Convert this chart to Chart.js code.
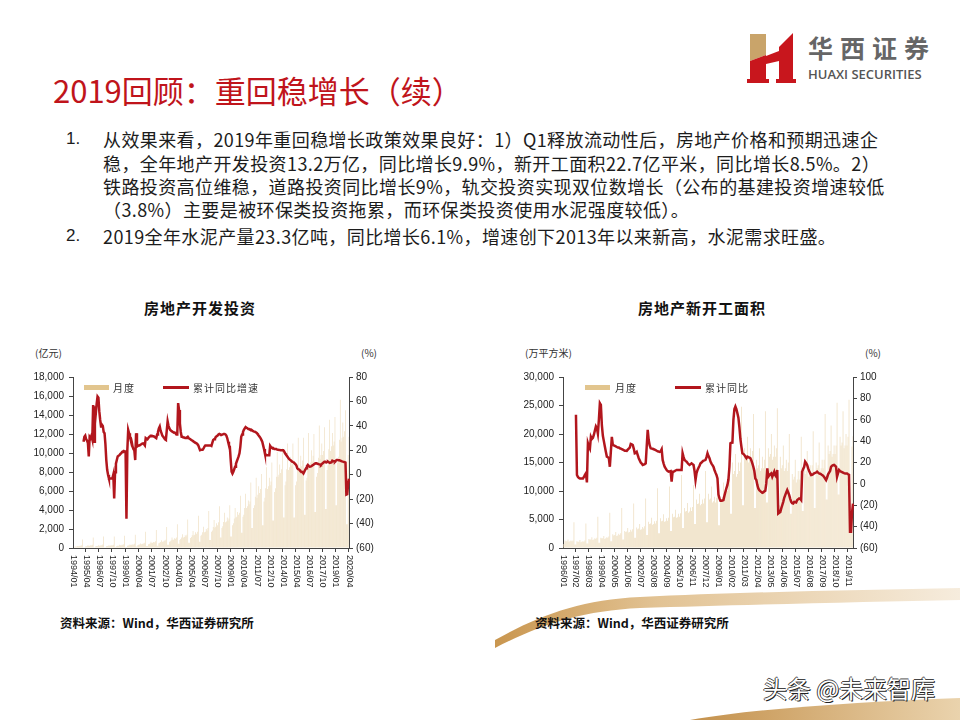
<!DOCTYPE html>
<html>
<head>
<meta charset="utf-8">
<script src="https://cdn.jsdelivr.net/npm/chart.js@4.4.1/dist/chart.umd.min.js"></script>
<style>
  body { margin: 0; width: 960px; height: 720px; position: relative; overflow: hidden; background: #fff;
         font-family: "Noto Sans CJK SC", "Noto Sans", sans-serif; }
  .abs { position: absolute; white-space: nowrap; }
  .title { left: 53px; top: 72px; font-size: 31px; line-height: 36px; color: #c0141b; }
  .body { font-size: 18px; line-height: 22px; color: #1c1c1c; letter-spacing: 0.4px; }
  .num { font-family: "Liberation Sans", Arial, sans-serif; font-size: 17px; line-height: 22px; color: #1c1c1c; }
  .ctitle { font-size: 15px; font-weight: bold; color: #111; letter-spacing: 1px; transform: translateX(-50%); }
  .unit { font-size: 10px; color: #333; }
  .leg { font-size: 10px; color: #333; letter-spacing: 1px; }
  .src { font-size: 12.5px; font-weight: bold; color: #111; }
  canvas { position: absolute; }
</style>
</head>
<body>
<svg class="abs" style="left:0;top:0" width="960" height="720">
  <defs>
    <linearGradient id="g1" x1="0" y1="0" x2="1" y2="0">
      <stop offset="0" stop-color="#c9964f"/>
      <stop offset="0.35" stop-color="#e2c394"/>
      <stop offset="1" stop-color="#f6ecdd"/>
    </linearGradient>
    <linearGradient id="g2" x1="0" y1="0" x2="1" y2="0">
      <stop offset="0" stop-color="#c4914c"/>
      <stop offset="1" stop-color="#ead3ad"/>
    </linearGradient>
  </defs>
  <path d="M495,640 C540,615 580,600 640,597 C740,592 860,590 960,588 L960,600 C860,602 740,605 640,608 C580,611 540,625 495,648 Z" fill="url(#g1)"/>
  <path d="M690,720 C760,708 860,702 960,698 L960,720 Z" fill="url(#g2)"/>
  <!-- logo -->
  <polygon points="750,34 766,34 766,55 750,61" fill="#c9a46a"/>
  <polygon points="750,61 766,55 766,80 750,80" fill="#c8161d"/>
  <polygon points="766,56 779,51 779,61 766,64" fill="#c8161d"/>
  <polygon points="779,47 793,33 793,80 779,80" fill="#c8161d"/>
  <rect x="747" y="79" width="22" height="4" fill="#c8161d"/>
  <rect x="776" y="79" width="20" height="4" fill="#c8161d"/>
</svg>

<div class="abs" style="left:808px;top:30px;font-size:25px;line-height:34px;color:#666;letter-spacing:7px;font-weight:bold;">华西证券</div>
<div class="abs" style="left:808px;top:66px;font-family:'Open Sans',sans-serif;font-size:13px;line-height:16px;color:#555;font-weight:600;">HUAXI SECURITIES</div>

<div class="abs title">2019回顾：重回稳增长（续）</div>

<div class="abs num" style="left:66px;top:128px;">1.</div>
<div class="abs body" style="left:103px;top:128px;">从效果来看，2019年重回稳增长政策效果良好：1）Q1释放流动性后，房地产价格和预期迅速企</div>
<div class="abs body" style="left:103px;top:152px;">稳，全年地产开发投资13.2万亿，同比增长9.9%，新开工面积22.7亿平米，同比增长8.5%。2）</div>
<div class="abs body" style="left:103px;top:175px;">铁路投资高位维稳，道路投资同比增长9%，轨交投资实现双位数增长（公布的基建投资增速较低</div>
<div class="abs body" style="left:103px;top:198px;">（3.8%）主要是被环保类投资拖累，而环保类投资使用水泥强度较低）。</div>
<div class="abs num" style="left:66px;top:225px;">2.</div>
<div class="abs body" style="left:103px;top:225px;">2019全年水泥产量23.3亿吨，同比增长6.1%，增速创下2013年以来新高，水泥需求旺盛。</div>

<div class="abs ctitle" style="left:200px;top:297px;">房地产开发投资</div>
<div class="abs ctitle" style="left:702px;top:297px;">房地产新开工面积</div>
<div class="abs unit" style="left:35px;top:345px;">(亿元)</div>
<div class="abs unit" style="left:361px;top:345px;">(%)</div>
<div class="abs unit" style="left:525px;top:345px;">(万平方米)</div>
<div class="abs unit" style="left:865px;top:345px;">(%)</div>

<canvas id="c1" width="380" height="240" style="left:10px;top:365px;"></canvas>
<canvas id="c2" width="400" height="240" style="left:490px;top:365px;"></canvas>

<div class="abs" style="left:84px;top:385px;width:25px;height:5px;background:#e2c58e;"></div>
<div class="abs leg" style="left:113px;top:380px;">月度</div>
<div class="abs" style="left:163px;top:386px;width:26px;height:3px;background:#b2161d;"></div>
<div class="abs leg" style="left:193px;top:380px;">累计同比增速</div>
<div class="abs" style="left:585px;top:385px;width:25px;height:5px;background:#e2c58e;"></div>
<div class="abs leg" style="left:615px;top:380px;">月度</div>
<div class="abs" style="left:675px;top:386px;width:26px;height:3px;background:#b2161d;"></div>
<div class="abs leg" style="left:705px;top:380px;">累计同比</div>

<div class="abs src" style="left:60px;top:613px;">资料来源：Wind，华西证券研究所</div>
<div class="abs src" style="left:535px;top:613px;">资料来源：Wind，华西证券研究所</div>

<div class="abs" style="left:763px;top:672px;font-size:24px;line-height:32px;color:#fff;text-shadow:1px 1px 0 #222,-1px 0 0 #444,0 -1px 0 #444;">头条 @未来智库</div>

<script>
// x tick labels
var xTicksLeft = ['1994/01','1995/04','1996/07','1997/10','1999/01','2000/04','2001/07','2002/10',
  '2004/01','2005/04','2006/07','2007/10','2009/01','2010/04','2011/07','2012/10','2014/01',
  '2015/04','2016/07','2017/10','2019/01','2020/04'];
var xTicksRight = ['1996/01','1997/02','1998/03','1999/04','2000/05','2001/06','2002/07','2003/08',
  '2004/09','2005/10','2006/11','2007/12','2009/01','2010/02','2011/03','2012/04','2013/05',
  '2014/06','2015/07','2016/08','2017/09','2018/10','2019/11'];

// 房地产开发投资 月度 (亿元), 1994/01 - 2020/04
var investMonthly = [
  60,60,130,150,170,220,190,200,230,230,280,900,
  80,80,170,190,210,280,240,250,290,290,350,1100,
  90,90,180,200,220,290,250,260,300,300,360,1200,
  90,90,180,200,220,290,250,260,300,300,350,1200,
  100,100,200,230,250,330,280,290,340,340,400,1300,
  110,110,230,260,290,370,320,330,380,380,450,1400,
  150,150,300,330,380,480,400,420,480,470,550,1700,
  200,200,400,430,500,650,520,540,620,600,700,1900,
  250,250,500,550,620,820,650,680,780,760,880,2200,
  350,350,650,720,820,1100,860,880,1020,980,1100,2500,
  450,450,850,950,1100,1450,1100,1150,1350,1250,1400,3000,
  550,550,1050,1150,1350,1800,1350,1400,1650,1500,1700,3400,
  650,650,1300,1400,1650,2250,1650,1700,2000,1850,2100,3900,
  850,850,1700,1850,2200,2950,2150,2250,2600,2400,2700,4400,
  1100,1100,2100,2300,2750,3700,2700,2800,3200,2900,3100,4500,
  1200,1200,2400,2600,3100,4200,3200,3300,3800,3500,3700,5500,
  1600,1600,3300,3500,4200,5700,4200,4400,5000,4600,4900,6900,
  2100,2100,4200,4500,5400,7400,5300,5600,6500,5800,6200,7800,
  2400,2400,4900,5300,6300,8500,6200,6500,7400,6600,7000,9000,
  2900,2900,5900,6300,7500,10100,7500,7700,8800,7900,8300,10500,
  3200,3200,6600,7000,8300,11000,8200,8500,9600,8700,9000,11000,
  3200,3200,6600,7000,8300,11600,8200,8500,9700,8600,9200,11600,
  3500,3500,7100,7400,8900,12100,8800,9000,10300,9100,9700,12000,
  3800,3800,7500,7900,9500,12900,9400,9800,11000,9800,10200,12700,
  4100,4100,8200,8700,10400,13500,10200,10700,12100,10800,11200,13800,
  4500,4500,9000,9600,11400,15600,11200,11600,13200,11700,12300,14500,
  2500,2500,9800,11700
];
// 房地产开发投资 累计同比增速 (%)
var investYoY = [
  null,null,null,null,null,null,null,null,null,null,null,null,
  27,31,32,29,28,26,15,31,30,32,29,57,
  27,56,50,58,64,63,52,45,39.5,41,40,35,
  34,25,12,4,0,-3,-3,-3,-3,-3,0,-19.5,
  2,9,12,15,15.5,16,17,17.5,18.5,19,19.4,19,
  19,-36,20,36.7,34,31,30,27,23,21,20,12,
  34,23,23.5,24,24,24.5,25,25.5,25.7,25,24,30,
  29.5,29,30,31,31.5,32,32,31.5,31.5,31,30.5,30,
  33,35,38,39.5,36,34,32,31,30,29,28.5,36,
  43.6,40,38,36.7,36,35.5,35,34.5,34.5,34,33,33,
  58.6,53,42,35,31,31,30.5,30.5,30,30,30.5,31,
  30,29.5,29,28.5,28,27.5,27,26.5,26,25.7,25,24,
  22,20,20,20.5,20.5,21.5,23,24,24,24,24,24,
  24,24,23.6,26,28.5,29,29.5,31,31.5,32,33,33.4,
  33,32.5,32.5,33,33.4,33.4,33,32,30,27,24,23,
  12,2.5,1,2.5,4.5,6.6,9,11,13,15,17.5,23,
  31,33,35,36.7,38,39,38.5,38,37.5,37.5,37,37,
  36.5,36,35.5,35.3,35,34.5,34,33,32,31,30,28.5,
  27,24,21,17.5,16.5,16,16,16,16,23.6,22.5,22,
  22,21.5,21,21,21,20.5,20.4,20.3,20.2,20.1,20,20,
  20,19,17.5,16.5,15.5,14.5,13.4,12.5,12,11.5,10.7,10.5,
  10,9.3,8.5,7.5,5.2,4.6,4.3,3.5,2.6,2.5,2,1.1,
  2.5,4,5.2,7,8,7.2,6.5,6.6,6.9,7.5,8,8,
  9,9.3,9.3,9,8.8,8.5,8.3,8,8.8,9.3,10,10.7,
  10.7,10,10.4,10.7,10.2,9.7,10,10.1,11.5,11.2,10.8,10.7,
  11.5,12,12,11.9,11.8,11.5,11.2,11,10.7,10.5,10.2,9.9,
  -16.3,-16,-7.7,-3.3
];

// 房地产新开工面积 月度 (万平方米), 1996/01 - 2020/04
var startsMonthly = [
  700,700,1300,1200,1200,1500,1100,1200,1300,1200,1300,4500,
  600,600,1200,1100,1100,1400,1000,1100,1200,1100,1300,4300,
  800,800,1600,1500,1500,1900,1400,1500,1700,1600,1800,5500,
  900,900,1800,1700,1700,2100,1600,1700,1900,1800,2000,6200,
  1200,1200,2400,2200,2300,2800,2100,2200,2500,2300,2600,7000,
  1500,1500,3000,2800,2900,3500,2700,2800,3200,2900,3300,7800,
  1800,1800,3600,3300,3400,4200,3200,3300,3700,3400,3800,8700,
  2300,2300,4600,4200,4300,5300,4100,4200,4700,4300,4800,10500,
  2600,2600,5200,4700,4800,5900,4600,4700,5200,4800,5300,10800,
  3000,3000,6000,5400,5500,6700,5300,5400,6000,5500,6100,12800,
  3500,3500,7000,6400,6500,7900,6200,6400,7100,6500,7200,11000,
  4200,4200,8500,7700,7800,9500,7500,7700,8500,7800,8700,13500,
  4500,4500,9500,8500,8700,10800,8000,8200,9000,8000,8800,12000,
  4000,4000,8500,8500,9000,11500,9000,9500,11000,10000,11500,15500,
  6000,6000,15000,13000,13500,16500,12500,13000,15000,13500,15000,24800,
  7500,7500,17500,15500,16000,19500,15000,15500,17500,15500,17000,23500,
  7000,7000,15500,14000,14500,17500,13500,14000,16000,14000,15500,24000,
  8000,8000,17500,16000,16500,20000,15500,16000,18000,16000,17500,24500,
  7500,7500,16000,14000,14500,18000,13500,14000,15500,13500,15000,20000,
  6000,6000,13000,12000,12500,15500,11500,12000,13500,12000,13500,19500,
  6500,6500,14000,13000,13500,17000,12500,13000,14500,13000,14500,20500,
  7000,7000,15000,14000,14500,18500,13500,14000,15500,14000,15500,23500,
  8500,8500,18000,16500,17000,21500,16000,16500,18000,16500,18000,25500,
  9400,9400,19500,18000,18500,24000,17500,18000,20000,18000,19500,26000,
  5200,5200,17800,19600
];
// 房地产新开工面积 累计同比 (%)
var startsYoY = [
  null,null,null,null,null,null,null,null,null,null,null,null,
  null,64.6,8.3,6.5,5.5,5.1,5,5,5,6.5,8.5,10,
  1.4,38,35,33,44,42,43,46,50,53.7,52,47,
  60,75.6,74,55,45,40,35,30,25.5,25,24,16,
  30,44,36.4,36,35.5,35,34.5,34,34,33.3,33,32.5,
  32,31.5,31,31,30.8,32,33,34,37.4,37,36.4,33,
  28.6,29,30,27,24,22,20,19,17.7,18,18.5,19.2,
  35,50.5,41,36,33.3,33,32.8,32.4,32,31.5,31,30.5,
  30.2,30,30.5,32.4,22.4,19,16,14.5,13,12,11.4,11.7,
  12,2,11.4,11.4,12,12.5,13,13,13,13,13,13,
  28.6,25,22.4,21.5,20.8,19.5,18.5,17.7,18.5,19.2,18.5,17.7,
  12,3.6,10,13,15,17,19.2,20,21,21.7,22,22.4,
  25,28.6,26,24,20.8,19,17.5,16,13,10.5,8.3,5,
  -10,-13.6,-15.8,-15.8,-15.5,-15.2,-11,-7.4,-4,-1,4,16,
  38,38.5,38.6,60,70,72.4,70,66,62,53,42,35,
  28.6,28,27,25.5,24,25.5,25,24.5,24,22,19.2,16,
  12,5,3.6,-1,-4.3,-6,-6.8,-7.5,-8.3,-8,-7,-6.5,
  0.4,14.5,6.7,8,9,9.8,6.7,9,11.4,8,6.7,13,
  -27.7,-27,-26.5,-23,-20,-16.8,-13,-10.5,-8,-5.8,-8,-10.5,
  -14,-16.8,-18,-18.4,-16.8,-17,-17.4,-15.2,-14.5,-13.6,-14,-15.2,
  11.4,14,16,20.8,19.5,17.7,14.5,12,10,8.3,8.5,9,
  9.8,10.2,10.6,11.4,10.5,9.8,9.5,9,8.2,7.6,6.5,5,
  3.6,6,8.9,10.5,12,16,17,17.5,17.7,17,16,6.7,
  10,13,12,11.4,11,10.5,10,9.8,9.8,9.8,9,8.5,
  -44.9,-44.9,-27.2,-18.4
];

function monthLabels(y0, n) {
  var out = [];
  for (var i = 0; i < n; i++) {
    var y = y0 + Math.floor(i / 12), m = i % 12 + 1;
    out.push(y + '/' + (m < 10 ? '0' + m : m));
  }
  return out;
}

var axisFont = { family: '"Liberation Sans", Arial, sans-serif', size: 10 };

// draws the x labels rotated clockwise, as in the original
var vertLabels = {
  id: 'vertLabels',
  afterDraw: function (chart, args, opts) {
    var sx = chart.scales.x, ctx = chart.ctx, labels = chart.data.labels;
    ctx.save();
    ctx.font = '9px "Liberation Sans", Arial, sans-serif';
    ctx.fillStyle = '#222';
    ctx.textAlign = 'left';
    ctx.textBaseline = 'middle';
    opts.ticks.forEach(function (t) {
      var x = sx.getPixelForValue(labels.indexOf(t));
      ctx.save();
      ctx.translate(x, sx.top + 7);
      ctx.rotate(Math.PI / 2);
      ctx.fillText(t, 0, 0);
      ctx.restore();
    });
    ctx.restore();
  }
};

function makeChart(id, labels, ticks, bars, line, yMax, yStep, y1Max, wLeft, wRight) {
  var tickSet = new Set(ticks);
  return new Chart(document.getElementById(id), {
    type: 'bar',
    data: {
      labels: labels,
      datasets: [
        { type: 'line', data: line, yAxisID: 'y1', borderColor: '#b2161d', borderWidth: 2.5,
          pointRadius: 0, tension: 0, order: 1 },
        { data: bars, yAxisID: 'y', backgroundColor: '#ecdab8', barPercentage: 0.75,
          categoryPercentage: 0.9, order: 2 }
      ]
    },
    options: {
      responsive: false,
      animation: false,
      layout: { padding: { top: 12, left: 0, right: 0, bottom: 0 } },
      plugins: { legend: { display: false }, tooltip: { enabled: false }, vertLabels: { ticks: ticks } },
      scales: {
        x: {
          offset: false,
          ticks: { display: false, autoSkip: false },
          grid: { drawOnChartArea: false, tickLength: 4,
                  tickColor: function (c) { return tickSet.has(labels[c.index]) ? '#444' : 'rgba(0,0,0,0)'; } },
          border: { color: '#444' },
          afterFit: function (s) { s.height = 57; }
        },
        y: {
          min: 0, max: yMax,
          ticks: { stepSize: yStep, font: axisFont, color: '#222', padding: 5,
                   callback: function (v) { return v.toLocaleString('en-US'); } },
          grid: { drawOnChartArea: false, tickLength: 4, tickColor: '#444' },
          border: { color: '#444' },
          afterFit: function (s) { s.width = wLeft; }
        },
        y1: {
          position: 'right', min: -60, max: y1Max,
          ticks: { stepSize: 20, font: axisFont, color: '#222', padding: 3,
                   callback: function (v) { return v < 0 ? '(' + (-v) + ')' : v; } },
          grid: { drawOnChartArea: false, tickLength: 4, tickColor: '#444' },
          border: { color: '#444' },
          afterFit: function (s) { s.width = wRight; }
        }
      }
    },
    plugins: [vertLabels]
  });
}

makeChart('c1', monthLabels(1994, investMonthly.length), xTicksLeft, investMonthly, investYoY,
  18000, 2000, 80, 63, 41);
makeChart('c2', monthLabels(1996, startsMonthly.length), xTicksRight, startsMonthly, startsYoY,
  30000, 5000, 100, 73, 37);
</script>
</body>
</html>
